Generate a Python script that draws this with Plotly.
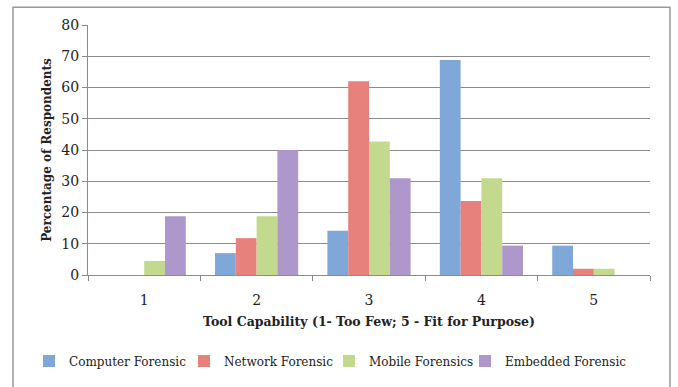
import plotly.graph_objects as go

# Survey results: perceived tool capability per forensic discipline
categories = ["1", "2", "3", "4", "5"]
computer_forensic = [0, 7, 14.2, 68.8, 9.4]
network_forensic = [0, 11.8, 62, 23.7, 2]
mobile_forensics = [4.5, 18.8, 42.7, 31, 2]
embedded_forensic = [18.8, 40, 31, 9.4, 0]

series_names = ["Computer Forensic", "Network Forensic", "Mobile Forensics", "Embedded Forensic"]
series_values = [computer_forensic, network_forensic, mobile_forensics, embedded_forensic]
series_colors = ["#7FA8D9", "#E7817C", "#C3DA8E", "#AE98CB"]

FONT = "DejaVu Serif"
TEXT = "#222222"

W, H = 678, 387
L, R, T, B = 88, 28, 25, 109
pw, ph = W - L - R, H - T - B


def px_x(p):
    return (p - L) / pw


def px_y(p):
    return (H - B - p) / ph


# each series gets its own legend box so the entries sit in one spaced row
legend_ids = ["legend", "legend2", "legend3", "legend4"]
legend_left = [29, 184, 329, 465]

fig = go.Figure()
for name, values, color, lid in zip(series_names, series_values, series_colors, legend_ids):
    fig.add_trace(go.Bar(
        x=categories,
        y=values,
        name=name,
        legend=lid,
        marker=dict(color=color, line=dict(width=0)),
    ))

legend_layouts = {}
for lid, left in zip(legend_ids, legend_left):
    legend_layouts[lid] = dict(
        orientation="h",
        x=px_x(left),
        xanchor="left",
        y=px_y(365),
        yanchor="middle",
        bgcolor="rgba(0,0,0,0)",
        font=dict(family=FONT, size=12, color=TEXT),
    )

fig.update_layout(
    width=W,
    height=H,
    margin=dict(l=L, r=R, t=T, b=B),
    paper_bgcolor="white",
    plot_bgcolor="white",
    barmode="group",
    bargap=0.26,
    bargroupgap=0,
    font=dict(family=FONT, size=13, color=TEXT),
    showlegend=True,
    **legend_layouts,
    xaxis=dict(
        type="category",
        showline=True,
        linecolor="#8c8c8c",
        linewidth=1,
        ticks="outside",
        tickson="boundaries",
        ticklen=5,
        tickcolor="#8c8c8c",
        showgrid=False,
        ticklabelstandoff=12,
        tickfont=dict(family=FONT, size=14, color=TEXT),
        title=dict(
            text="<b>Tool Capability (1- Too Few; 5 - Fit for Purpose)</b>",
            font=dict(family=FONT, size=12.5, color=TEXT),
            standoff=10,
        ),
    ),
    yaxis=dict(
        range=[0, 80],
        dtick=10,
        showline=True,
        linecolor="#8c8c8c",
        linewidth=1,
        ticks="outside",
        ticklen=5,
        tickcolor="#8c8c8c",
        showgrid=True,
        gridcolor="#8c8c8c",
        gridwidth=1,
        zeroline=False,
        tickfont=dict(family=FONT, size=14, color=TEXT),
        title=dict(
            text="<b>Percentage of Respondents</b>",
            font=dict(family=FONT, size=12, color=TEXT),
            standoff=7,
        ),
    ),
    shapes=[
        dict(
            type="rect",
            xref="paper",
            yref="paper",
            x0=px_x(13),
            x1=px_x(670),
            y0=px_y(400),
            y1=px_y(7),
            line=dict(color="#9a9a9a", width=1.5),
            fillcolor="rgba(0,0,0,0)",
            layer="below",
        )
    ],
)

fig.write_html("out.html")
